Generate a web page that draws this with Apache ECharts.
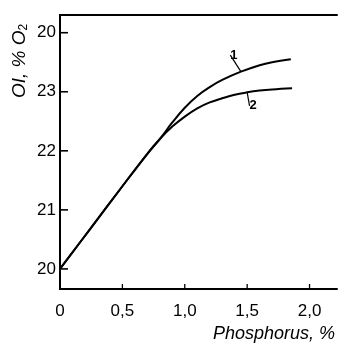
<!DOCTYPE html>
<html>
<head>
<meta charset="utf-8">
<script src="https://cdn.jsdelivr.net/npm/echarts@6/dist/echarts.min.js"></script>
<style>
  html, body { margin: 0; padding: 0; background: #fff; }
  #chart { width: 347px; height: 351px; }
</style>
</head>
<body>
<div id="chart"></div>
<script>
// values
const phos1 = [0, 0.25, 0.5, 0.7, 0.8, 0.9, 1.0, 1.1, 1.2, 1.3, 1.45, 1.6, 1.7, 1.85];
const oi1 = [20.0, 20.7, 21.4, 21.95, 22.2, 22.48, 22.73, 22.93, 23.08, 23.2, 23.34, 23.45, 23.5, 23.55];
const phos2 = [0, 0.25, 0.5, 0.7, 0.8, 0.9, 1.0, 1.1, 1.2, 1.3, 1.4, 1.5, 1.6, 1.7, 1.86];
const oi2 = [20.0, 20.7, 21.4, 21.95, 22.2, 22.41, 22.58, 22.72, 22.82, 22.89, 22.95, 22.99, 23.02, 23.04, 23.06];

const xTicks = [0.5, 1.0, 1.5, 2.0];
const xTickLabels = ['0', '0,5', '1,0', '1,5', '2,0'];
const yTicks = [20, 21, 22, 23, 24];
const yTickLabels = ['20', '21', '22', '23', '20']; // top label printed as "20" in the original

const font = 'Liberation Sans';
const xRange = { min: 0, max: 2.22 };
const yRange = { min: 19.66, max: 24.3 };

function pairs(xs, ys) {
  return xs.map((x, i) => [x, ys[i]]);
}

// curve number sits on one point, moved off it with a short leader line
function withTag(data, idx, text) {
  return data.map((p, i) => i !== idx ? p : {
    value: p,
    label: { show: true, formatter: text, fontFamily: font, fontSize: 13, fontWeight: 'bold', color: '#000' }
  });
}

// plain frame edge (top / right)
function edge(extra) {
  return Object.assign({
    type: 'value',
    axisLine: { show: true, lineStyle: { color: '#000', width: 2 } },
    axisTick: { show: false }, axisLabel: { show: false }, splitLine: { show: false }
  }, extra);
}

const chart = echarts.init(document.getElementById('chart'));
chart.setOption({
  animation: false,
  grid: { left: 60, right: 10, top: 15, bottom: 62 },
  xAxis: [{
    type: 'value', min: xRange.min, max: xRange.max, interval: 0.5,
    axisLine: { show: true, onZero: false, lineStyle: { color: '#000', width: 2 } },
    axisTick: { show: false },
    axisLabel: {
      margin: 14, color: '#000', fontFamily: font, fontSize: 17, showMaxLabel: false,
      formatter: v => xTickLabels[Math.round(v / 0.5)]
    },
    splitLine: { show: false },
    name: 'Phosphorus, %', nameLocation: 'end', nameGap: -2,
    nameTextStyle: { color: '#000', fontFamily: font, fontSize: 18, fontStyle: 'italic', align: 'right', verticalAlign: 'top', padding: [36, 0, 0, 0] }
  }, edge({ position: 'top', min: xRange.min, max: xRange.max })],
  yAxis: [{
    type: 'value', min: yRange.min, max: yRange.max,
    axisLine: { show: true, onZero: false, lineStyle: { color: '#000', width: 2 } },
    axisTick: { show: false },
    axisLabel: {
      customValues: yTicks, margin: 4, color: '#000', fontFamily: font, fontSize: 17,
      formatter: v => yTickLabels[yTicks.indexOf(v)]
    },
    splitLine: { show: false }
  }, edge({ position: 'right', min: yRange.min, max: yRange.max })],
  series: [
    {
      type: 'line', smooth: 0.4, symbol: 'circle', symbolSize: 0, showSymbol: true, silent: true,
      lineStyle: { color: '#000', width: 2 },
      labelLayout: { dx: -7, dy: -5 },
      labelLine: { show: true, lineStyle: { color: '#000', width: 1.2 } },
      data: withTag(pairs(phos1, oi1), 10, '1')
    },
    {
      type: 'line', smooth: 0.4, symbol: 'circle', symbolSize: 0, showSymbol: true, silent: true,
      lineStyle: { color: '#000', width: 2 },
      labelLayout: { dx: 6, dy: 25 },
      labelLine: { show: true, lineStyle: { color: '#000', width: 1.2 } },
      data: withTag(pairs(phos2, oi2), 11, '2')
    }
  ]
});

// inward tick marks, placed through the axis scales
const ticks = [];
yTicks.forEach(v => {
  const p = chart.convertToPixel({ xAxisIndex: 0, yAxisIndex: 0 }, [xRange.min, v]);
  ticks.push({ type: 'line', silent: true, z: 100,
    shape: { x1: p[0], y1: p[1], x2: p[0] + 8, y2: p[1] },
    style: { stroke: '#000', lineWidth: 1.6 } });
});
xTicks.forEach(v => {
  const p = chart.convertToPixel({ xAxisIndex: 0, yAxisIndex: 0 }, [v, yRange.min]);
  ticks.push({ type: 'line', silent: true, z: 100,
    shape: { x1: p[0], y1: p[1], x2: p[0], y2: p[1] - 5 },
    style: { stroke: '#000', lineWidth: 1.3 } });
});

chart.setOption({
  graphic: [{
    type: 'text', x: 9, y: 98, rotation: Math.PI / 2,
    style: {
      text: '{i|OI, % O}{s|2}',
      rich: {
        i: { fontFamily: font, fontSize: 19, fontStyle: 'italic', fill: '#000' },
        s: { fontFamily: font, fontSize: 12, fill: '#000', padding: [9, 0, 0, 0] }
      }
    }
  }].concat(ticks)
});
</script>
</body>
</html>
